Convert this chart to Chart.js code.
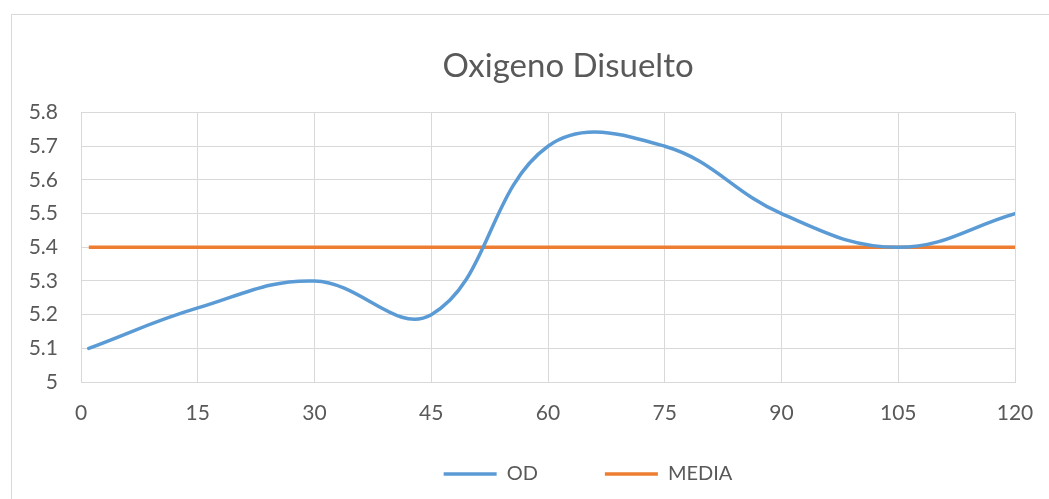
<!DOCTYPE html>
<html>
<head>
<meta charset="utf-8">
<script src="https://cdn.jsdelivr.net/npm/chart.js@4.4.1/dist/chart.umd.min.js"></script>
<style>
  html, body { margin: 0; padding: 0; background: #fff; }
  #wrap { position: relative; width: 1049px; height: 499px; }
  #frame { position: absolute; left: 11px; top: 14px; width: 1100px; height: 600px; border: 1px solid #d9d9d9; }
  #c { position: absolute; left: 0; top: 0; }
</style>
</head>
<body>
<div id="wrap">
  <div id="frame"></div>
  <canvas id="c" width="1049" height="499"></canvas>
</div>
<script>
// datos del grafico
const tiempos = [1, 15, 30, 45, 60, 75, 90, 105, 120];
const od = [5.1, 5.22, 5.3, 5.2, 5.7, 5.7, 5.5, 5.4, 5.5];
const media = [5.4, 5.4, 5.4, 5.4, 5.4, 5.4, 5.4, 5.4, 5.4];
const titulo = 'Oxigeno Disuelto';

const texto = '#595959';
const rejilla = '#d9d9d9';
const fuente = 'Lato, "Open Sans", sans-serif';

// ajusta titulo y leyenda para que queden donde los pone Excel
const ajustes = {
    id: 'ajustes',
    afterLayout(chart) {
        const lg = chart.legend;
        if (lg) {
            lg.left += 40; lg.right += 40;
            lg.top -= 31; lg.height = lg.bottom - lg.top;
        }
        const t = chart.titleBlock;
        if (t) { t.left += 20; t.right += 20; }
    }
};

new Chart(document.getElementById('c'), {
    type: 'line',
    data: {
        datasets: [
            {
                label: 'OD',
                data: tiempos.map((t, i) => ({ x: t, y: od[i] })),
                borderColor: '#5b9bd5',
                backgroundColor: '#5b9bd5',
                borderWidth: 3.5,
                pointRadius: 0,
                tension: 0.4,
                borderCapStyle: 'round'
            },
            {
                label: 'MEDIA',
                data: tiempos.map((t, i) => ({ x: t, y: media[i] })),
                borderColor: '#ed7d31',
                backgroundColor: '#ed7d31',
                borderWidth: 3.5,
                pointRadius: 0,
                tension: 0
            }
        ]
    },
    options: {
        responsive: false,
        animation: false,
        layout: { padding: { top: 30, right: 34, bottom: 5, left: 0 } },
        plugins: {
            title: {
                display: true,
                fullSize: false,
                text: titulo,
                color: texto,
                font: { family: fuente, size: 33, weight: 'normal' },
                padding: { top: 17, bottom: 26 }
            },
            legend: {
                position: 'bottom',
                fullSize: false,
                maxHeight: 66,
                labels: {
                    usePointStyle: true,
                    pointStyle: 'line',
                    pointStyleWidth: 53,
                    padding: 67,
                    color: texto,
                    font: { family: fuente, size: 20 }
                }
            },
            tooltip: { enabled: false }
        },
        scales: {
            x: {
                type: 'linear',
                min: 0,
                max: 120,
                ticks: { stepSize: 15, color: texto, padding: 19, font: { family: fuente, size: 21 } },
                grid: { color: rejilla, drawTicks: false },
                border: { color: rejilla },
                afterFit: (s) => { s.height = 46; s.paddingRight = 18; s.paddingLeft = 0; }
            },
            y: {
                min: 5,
                max: 5.8,
                ticks: {
                    stepSize: 0.1,
                    color: texto,
                    padding: 23,
                    font: { family: fuente, size: 21 },
                    callback: (v) => parseFloat(v.toFixed(1)).toString()
                },
                grid: { color: rejilla, drawTicks: false },
                border: { color: rejilla },
                afterFit: (s) => { s.width = 81; }
            }
        }
    },
    plugins: [ajustes]
});
</script>
</body>
</html>
